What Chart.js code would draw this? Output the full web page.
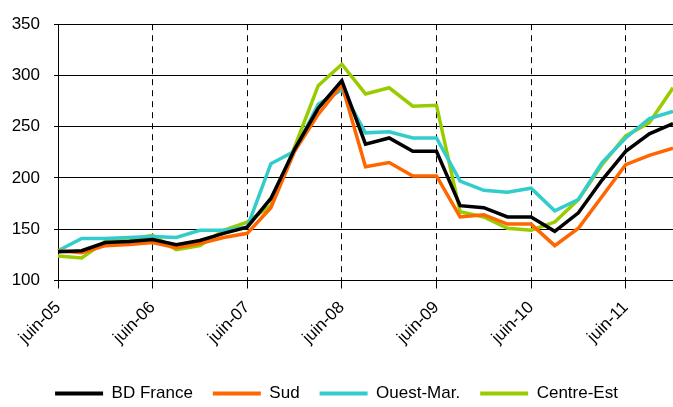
<!DOCTYPE html>
<html>
<head>
<meta charset="utf-8">
<script src="https://cdn.jsdelivr.net/npm/chart.js@4"></script>
<style>
  body { margin: 0; background: #fff; }
  #wrap { width: 673px; height: 407px; }
</style>
</head>
<body>
<div id="wrap"><canvas id="prixChart"></canvas></div>
<script>
// trimestres, de juin-05 à déc-11
const trimestres = [
    'juin-05', 'sept-05', 'déc-05', 'mars-06',
    'juin-06', 'sept-06', 'déc-06', 'mars-07',
    'juin-07', 'sept-07', 'déc-07', 'mars-08',
    'juin-08', 'sept-08', 'déc-08', 'mars-09',
    'juin-09', 'sept-09', 'déc-09', 'mars-10',
    'juin-10', 'sept-10', 'déc-10', 'mars-11',
    'juin-11', 'sept-11', 'déc-11'
];

const bdFrance   = [128, 129, 137, 138, 140, 135, 139, 146, 152, 180, 228, 268, 295, 233, 239, 226, 226, 173, 171, 162, 162, 148, 166, 198, 226, 243, 253];
const sud        = [129, 127, 134, 135, 137, 132, 136, 142, 146, 171, 226, 262, 291, 211, 215, 202, 202, 162, 164, 155, 155, 134, 151, 182, 213, 222, 229];
const ouestMar   = [129, 141, 141, 142, 143, 142, 149, 149, 152, 214, 226, 272, 286, 244, 245, 239, 239, 197, 188, 186, 190, 168, 179, 215, 239, 258, 265];
const centreEst  = [124, 122, 138, 140, 144, 130, 134, 149, 157, 173, 230, 290, 311, 282, 288, 270, 271, 167, 162, 151, 149, 157, 179, 213, 241, 254, 288];

const yTicks = [100, 150, 200, 250, 300, 350];

const serie = (label, data, couleur) => ({
    label: label,
    data: data,
    borderColor: couleur,
    backgroundColor: couleur,
    borderWidth: 3.5,
    pointRadius: 0,
    tension: 0,
    fill: false
});

Chart.defaults.font.family = "'Liberation Sans', Arial, sans-serif";
Chart.defaults.font.size = 17;
Chart.defaults.color = '#000';

const ctx = document.getElementById('prixChart').getContext('2d');
const prixChart = new Chart(ctx, {
    type: 'line',
    data: {
        labels: trimestres,
        datasets: [
            serie('BD France', bdFrance, '#000000'),
            serie('Sud', sud, '#FF6600'),
            serie('Ouest-Mar.', ouestMar, '#33CCCC'),
            serie('Centre-Est', centreEst, '#99CC00')
        ]
    },
    options: {
        responsive: true,
        maintainAspectRatio: false,
        animation: false,
        layout: { padding: { top: 20, right: 0, left: 0, bottom: -5 } },
        scales: {
            x: {
                afterFit: (s) => { s.paddingRight = 0; s.height += 8; },
                ticks: {
                    autoSkip: false,
                    maxRotation: 45,
                    minRotation: 45,
                    padding: 9,
                    callback: (v, i) => i % 4 === 0 ? trimestres[i] : ''
                },
                grid: {
                    color: (c) => (c.index % 4 === 0 && c.index > 0) ? '#000' : 'rgba(0,0,0,0)',
                    tickColor: (c) => c.index % 4 === 0 ? '#000' : 'rgba(0,0,0,0)',
                    lineWidth: 1,
                    tickLength: 8,
                    tickBorderDash: []
                },
                border: { display: true, color: '#000', width: 1, dash: [6, 5] }
            },
            y: {
                min: 100,
                max: 350,
                afterFit: (s) => { s.width = 58; },
                afterBuildTicks: (s) => { s.ticks = yTicks.map(v => ({ value: v })); },
                ticks: { padding: 14 },
                grid: { color: '#000', lineWidth: 1, tickLength: 4 },
                border: { display: true, color: '#000', width: 1 }
            }
        },
        plugins: {
            legend: {
                position: 'bottom',
                labels: {
                    boxWidth: 48,
                    boxHeight: 4,
                    padding: 20,
                    generateLabels: (chart) => Chart.defaults.plugins.legend.labels.generateLabels(chart)
                        .map(l => Object.assign(l, { lineWidth: 0 }))
                }
            },
            tooltip: { enabled: false }
        }
    }
});
</script>
</body>
</html>
